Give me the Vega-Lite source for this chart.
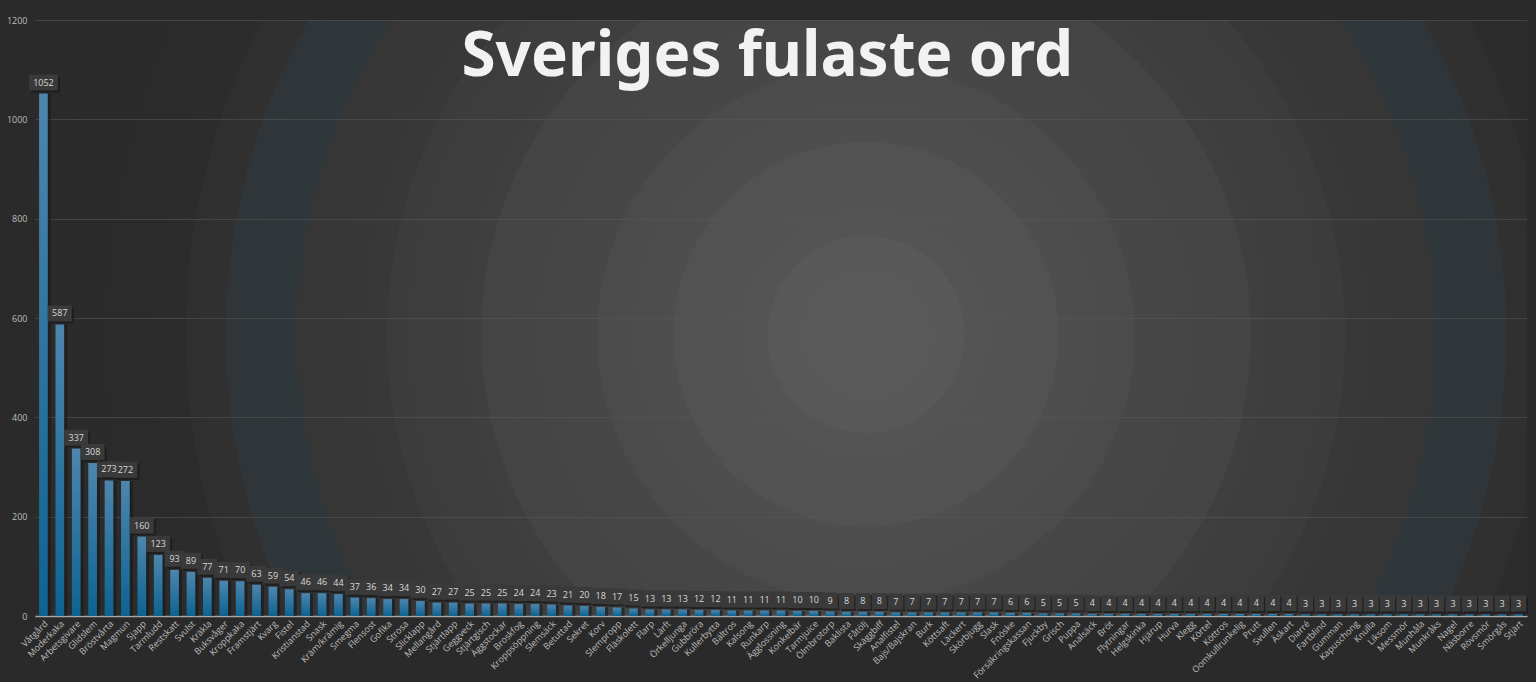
{
  "$schema": "https://vega.github.io/schema/vega-lite/v6.json",
  "width": 1492,
  "height": 596,
  "padding": {"left": 6, "top": 16, "right": 11, "bottom": 2},
  "background": "#2a2a2a",
  "title": {
    "text": "Sveriges fulaste ord",
    "fontSize": 62,
    "font": "Noto Sans",
    "fontWeight": 700,
    "color": "#f2f2f2",
    "anchor": "middle",
    "frame": "bounds",
    "dy": 77
  },
  "config": {
    "view": {
      "stroke": null,
      "fill": {
        "gradient": "radial",
        "x1": 0.557, "y1": 0.511, "r1": 0,
        "x2": 0.557, "y2": 0.511, "r2": 0.6,
        "stops": [
          {"offset": 0, "color": "#5a5a5a"},
          {"offset": 0.11, "color": "#585858"},
          {"offset": 0.11, "color": "#545454"},
          {"offset": 0.215, "color": "#525252"},
          {"offset": 0.215, "color": "#4e4e4e"},
          {"offset": 0.30, "color": "#4b4b4b"},
          {"offset": 0.30, "color": "#474747"},
          {"offset": 0.43, "color": "#444444"},
          {"offset": 0.43, "color": "#3f3f3f"},
          {"offset": 0.535, "color": "#3c3c3c"},
          {"offset": 0.535, "color": "#383838"},
          {"offset": 0.635, "color": "#363636"},
          {"offset": 0.635, "color": "#30373a"},
          {"offset": 0.715, "color": "#2f3538"},
          {"offset": 0.715, "color": "#303030"},
          {"offset": 0.76, "color": "#2f2f2f"},
          {"offset": 0.76, "color": "#2c2c2c"},
          {"offset": 1, "color": "#2a2a2a"}
        ]
      }
    },
    "axis": {"labelFont": "Open Sans", "labelColor": "#bdbdbd"}
  },
  "data": {
    "values": [
      {"w": "Våtgård", "n": 1052},
      {"w": "Moderkaka", "n": 587},
      {"w": "Arbetsgivare", "n": 337},
      {"w": "Glidslem", "n": 308},
      {"w": "Bröstvårta", "n": 273},
      {"w": "Magmun", "n": 272},
      {"w": "Sjapp", "n": 160},
      {"w": "Tarmludd", "n": 123},
      {"w": "Restskatt", "n": 93},
      {"w": "Svulst", "n": 89},
      {"w": "Kräkla", "n": 77},
      {"w": "Buksvåger", "n": 71},
      {"w": "Kroppkaka", "n": 70},
      {"w": "Framstjärt", "n": 63},
      {"w": "Kvarg", "n": 59},
      {"w": "Fistel", "n": 54},
      {"w": "Kristianstad", "n": 46},
      {"w": "Snask", "n": 46},
      {"w": "Kräm/krämig", "n": 44},
      {"w": "Smegma", "n": 37},
      {"w": "Flensost", "n": 36},
      {"w": "Gofika", "n": 34},
      {"w": "Strosa", "n": 34},
      {"w": "Slicklapp", "n": 30},
      {"w": "Mellangård", "n": 27},
      {"w": "Stjärtlapp", "n": 27},
      {"w": "Geggveck", "n": 25},
      {"w": "Stjärtgisch", "n": 25},
      {"w": "Äggstockar", "n": 25},
      {"w": "Broskfog", "n": 24},
      {"w": "Kroppsöppning", "n": 24},
      {"w": "Slemsäck", "n": 23},
      {"w": "Betuttad", "n": 21},
      {"w": "Sekret", "n": 20},
      {"w": "Korv", "n": 18},
      {"w": "Slempropp", "n": 17},
      {"w": "Fläskolett", "n": 15},
      {"w": "Flarp", "n": 13},
      {"w": "Lärft", "n": 13},
      {"w": "Örkelljunga", "n": 13},
      {"w": "Gubbröra", "n": 12},
      {"w": "Kullerbytta", "n": 12},
      {"w": "Bältros", "n": 11},
      {"w": "Kalsong", "n": 11},
      {"w": "Runkarp", "n": 11},
      {"w": "Ägglossning", "n": 11},
      {"w": "Konkelbär", "n": 10},
      {"w": "Tarmjuice", "n": 10},
      {"w": "Ölmbrotorp", "n": 9},
      {"w": "Baklista", "n": 8},
      {"w": "Fåtölj", "n": 8},
      {"w": "Skäggbiff", "n": 8},
      {"w": "Analfistel", "n": 7},
      {"w": "Bajs/Bajskran", "n": 7},
      {"w": "Burk", "n": 7},
      {"w": "Köttsaft", "n": 7},
      {"w": "Läckert", "n": 7},
      {"w": "Skörbjugg", "n": 7},
      {"w": "Slask", "n": 7},
      {"w": "Fnöske", "n": 6},
      {"w": "Försäkringskassan", "n": 6},
      {"w": "Fjuckby", "n": 5},
      {"w": "Grisch", "n": 5},
      {"w": "Puppa", "n": 5},
      {"w": "Analsäck", "n": 4},
      {"w": "Bröt", "n": 4},
      {"w": "Flytningar", "n": 4},
      {"w": "Helgskinka", "n": 4},
      {"w": "Hjärup", "n": 4},
      {"w": "Hurva", "n": 4},
      {"w": "Klegg", "n": 4},
      {"w": "Körtel", "n": 4},
      {"w": "Köttros", "n": 4},
      {"w": "Oomkullrunkelig", "n": 4},
      {"w": "Prutt", "n": 4},
      {"w": "Svullen", "n": 4},
      {"w": "Äskart", "n": 4},
      {"w": "Diarré", "n": 3},
      {"w": "Fartblind", "n": 3},
      {"w": "Gumman", "n": 3},
      {"w": "Kapuschong", "n": 3},
      {"w": "Knulla", "n": 3},
      {"w": "Liksom", "n": 3},
      {"w": "Messmör", "n": 3},
      {"w": "Munhåla", "n": 3},
      {"w": "Munkråks", "n": 3},
      {"w": "Nagel", "n": 3},
      {"w": "Näsborre", "n": 3},
      {"w": "Rövsmör", "n": 3},
      {"w": "Smörgås", "n": 3},
      {"w": "Stjärt", "n": 3}
    ]
  },
  "encoding": {
    "x": {
      "field": "w",
      "type": "nominal",
      "sort": null,
      "scale": {"paddingInner": 0.47, "paddingOuter": 0.25},
      "axis": {
        "title": null,
        "labelAngle": -45,
        "labelFontSize": 9,
        "labelOverlap": false,
        "labelPadding": 3,
        "ticks": false,
        "domainColor": "#a8a8a8",
        "domainWidth": 1.5,
        "grid": false
      }
    },
    "y": {
      "field": "n",
      "type": "quantitative",
      "scale": {"domain": [0, 1200], "nice": false},
      "axis": {
        "title": null,
        "format": "d",
        "values": [0, 200, 400, 600, 800, 1000, 1200],
        "labelFontSize": 9,
        "labelPadding": 8,
        "ticks": false,
        "domain": false,
        "gridColor": "#5a5a5a",
        "gridOpacity": 0.55,
        "gridWidth": 1
      }
    }
  },
  "layer": [
    {
      "mark": {"type": "bar", "xOffset": 3, "color": "#151515", "opacity": 0.55}
    },
    {
      "mark": {
        "type": "bar",
        "fill": {
          "x1": 0, "y1": 0, "x2": 0, "y2": 1,
          "gradient": "linear",
          "stops": [
            {"offset": 0, "color": "#4d86ad"},
            {"offset": 1, "color": "#0d6392"}
          ]
        }
      }
    },
    {
      "mark": {"type": "point", "filled": true, "size": 256, "yOffset": -9, "xOffset": 2, "color": "#1c1c1c", "opacity": 0.8},
      "encoding": {
        "shape": {
          "condition": [
            {"test": "datum.n >= 1000", "value": "M-1.8,-1H1.8V1H-1.8Z"},
            {"test": "datum.n >= 100", "value": "M-1.5,-1H1.5V1H-1.5Z"},
            {"test": "datum.n >= 10", "value": "M-1.25,-1H1.25V1H-1.25Z"}
          ],
          "value": "M-0.95,-1H0.95V1H-0.95Z"
        }
      }
    },
    {
      "mark": {"type": "point", "filled": true, "size": 256, "yOffset": -11, "color": "#3a3a3a", "opacity": 1},
      "encoding": {
        "shape": {
          "condition": [
            {"test": "datum.n >= 1000", "value": "M-1.8,-1H1.8V1H-1.8Z"},
            {"test": "datum.n >= 100", "value": "M-1.5,-1H1.5V1H-1.5Z"},
            {"test": "datum.n >= 10", "value": "M-1.25,-1H1.25V1H-1.25Z"}
          ],
          "value": "M-0.95,-1H0.95V1H-0.95Z"
        }
      }
    },
    {
      "mark": {"type": "text", "dy": -11, "baseline": "middle", "fontSize": 9, "font": "Open Sans", "color": "#d8d8d8"},
      "encoding": {"text": {"field": "n", "type": "quantitative"}}
    }
  ]
}
